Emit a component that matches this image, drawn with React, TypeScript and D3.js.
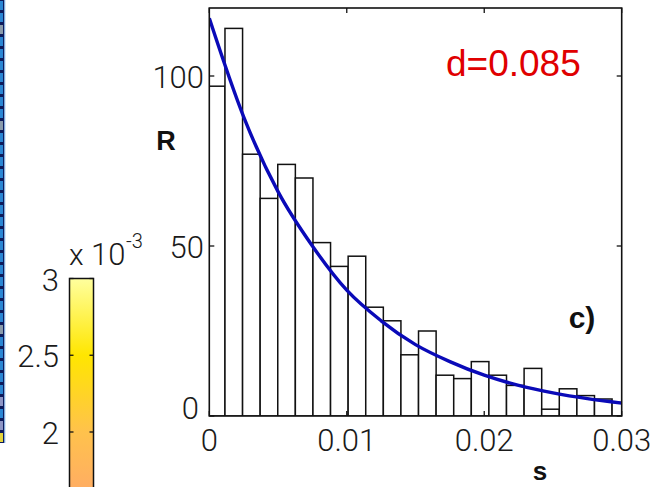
import React from "react";
import * as d3 from "d3";

// ---- data ----
const binStart = -0.00014;
const binWidth = 0.00128;
const counts = [97, 114, 77, 64, 74, 70, 51, 44, 47, 32, 28, 18, 25, 12, 11, 16, 12, 9, 14, 2, 8, 6, 5, 4];

const fitS = [0, 0.0025, 0.005, 0.0075, 0.01, 0.0125, 0.015, 0.0175, 0.02, 0.0225, 0.025, 0.0275, 0.03];
const fitR = [117, 88, 66, 50, 37, 28, 21, 16, 12, 9, 6.8, 5.1, 3.8];

const xTicks = [0, 0.01, 0.02, 0.03];
const xTickLabels = ["0", "0.01", "0.02", "0.03"];
const yTicks = [0, 50, 100];
const yTickLabels = ["0", "50", "100"];

const cbTicks = [3, 2.5, 2];
const cbTickLabels = ["3", "2.5", "2"];
const cbStopValues = [3, 2.5, 2, 1.64];
const cbStopColors = ["#ffff9e", "#ffe600", "#ffc24c", "#ffae62"];

// partial image strip at the far left (cell categories, top to bottom)
const stripCells = [
  "b", "b", "b", "g", "b", "b", "b", "b", "b", "b", "b", "g", "b", "b", "b", "b", "b", "b", "b",
  "b", "b", "b", "b", "b", "b", "b", "b", "b", "g", "b", "b", "b", "b", "b", "l", "b", "l", "y",
];
const stripColors: Record<string, string> = { b: "#2a86d4", g: "#8a9bab", l: "#8e96c6", y: "#e4d43c" };

const W = 654;
const H = 487;
const plot = { left: 209.3, right: 621.7, top: 8, bottom: 416 };

const tickFont = "Roboto, 'Liberation Sans', Arial, sans-serif";
const boldFont = "'Liberation Sans', Arial, sans-serif";

export default function App() {
  const x = d3.scaleLinear().domain([0, 0.03]).range([plot.left, plot.right]);
  const y = d3.scaleLinear().domain([0, 120]).range([plot.bottom, plot.top]);

  const bins = counts.map((c, i) => ({ x0: binStart + i * binWidth, x1: binStart + (i + 1) * binWidth, c }));

  const line = d3
    .line<number>()
    .x((_, i) => x(fitS[i]))
    .y((d) => y(d))
    .curve(d3.curveMonotoneX);

  // colorbar
  const cbY = d3.scaleLinear().domain([3, 2]).range([278.5, 432]);
  const cbColor = d3.scaleLinear<string>().domain(cbStopValues).range(cbStopColors);
  const cbLeft = 69.5;
  const cbRight = 93.5;
  const cbLow = cbStopValues[cbStopValues.length - 1];

  const stripPitch = 12;
  const stripBottom = 443;
  const n = stripCells.length;

  return (
    <svg
      width={W}
      height={H}
      style={{ position: "fixed", left: 0, top: 0, background: "#fff" }}
      fontFamily={tickFont}
    >
      <defs>
        <clipPath id="plotClip">
          <rect x={plot.left} y={plot.top} width={plot.right - plot.left} height={plot.bottom - plot.top} />
        </clipPath>
        <linearGradient id="cbGrad" x1="0" x2="0" y1={cbY(3)} y2={cbY(cbLow)} gradientUnits="userSpaceOnUse">
          {cbStopValues.map((v, i) => (
            <stop key={i} offset={(cbY(v) - cbY(3)) / (cbY(cbLow) - cbY(3))} stopColor={cbColor(v)} />
          ))}
        </linearGradient>
      </defs>

      {/* left partial image strip */}
      <rect x={0} y={0} width={4.5} height={stripBottom} fill="#0d1a5c" />
      {stripCells.map((c, i) => {
        const top = stripBottom - 10 - stripPitch * (n - 1 - i);
        return <rect key={i} x={0} y={top} width={3} height={9} fill={stripColors[c]} />;
      })}
      <line x1={4.8} x2={4.8} y1={0} y2={stripBottom} stroke="#7fb6e8" strokeWidth={1} />

      {/* colorbar */}
      <rect x={cbLeft} y={cbY(3)} width={cbRight - cbLeft} height={H - cbY(3) + 2} fill="url(#cbGrad)" stroke="#111" strokeWidth={1.5} />
      {cbTicks.map((t, i) => (
        <g key={i}>
          <line x1={cbLeft} x2={cbLeft + 4} y1={cbY(t)} y2={cbY(t)} stroke="#111" strokeWidth={1.3} />
          <line x1={cbRight - 4} x2={cbRight} y1={cbY(t)} y2={cbY(t)} stroke="#111" strokeWidth={1.3} />
          <text x={59} y={cbY(t) + 1} dy="0.36em" textAnchor="end" fontSize={31} fontWeight={300} fill="#1a1a1a">
            {cbTickLabels[i]}
          </text>
        </g>
      ))}
      <text x={69} y={265} fontSize={30} fontWeight={300} fill="#1a1a1a">
        x
      </text>
      <text x={91} y={265} fontSize={31} fontWeight={300} fill="#1a1a1a">
        10
      </text>
      <text x={126} y={248} fontSize={20} fontWeight={300} fill="#1a1a1a">
        -3
      </text>

      {/* histogram */}
      <g clipPath="url(#plotClip)">
        {bins.map((b, i) => (
          <rect
            key={i}
            x={x(b.x0)}
            y={y(b.c)}
            width={x(b.x1) - x(b.x0)}
            height={plot.bottom - y(b.c)}
            fill="#fff"
            stroke="#111"
            strokeWidth={1.5}
          />
        ))}
        <path d={line(fitR) || ""} fill="none" stroke="#0a0ab8" strokeWidth={3.4} />
      </g>

      {/* axes box */}
      <rect
        x={plot.left}
        y={plot.top}
        width={plot.right - plot.left}
        height={plot.bottom - plot.top}
        fill="none"
        stroke="#111"
        strokeWidth={1.6}
      />
      {xTicks.map((t, i) => (
        <g key={"x" + i}>
          <line x1={x(t)} x2={x(t)} y1={plot.bottom} y2={plot.bottom - 5} stroke="#111" strokeWidth={1.3} />
          <line x1={x(t)} x2={x(t)} y1={plot.top} y2={plot.top + 5} stroke="#111" strokeWidth={1.3} />
          <text x={x(t)} y={451} textAnchor="middle" fontSize={31} fontWeight={300} fill="#1a1a1a">
            {xTickLabels[i]}
          </text>
        </g>
      ))}
      {yTicks.map((t, i) => (
        <g key={"y" + i}>
          <line x1={plot.left} x2={plot.left + 5} y1={y(t)} y2={y(t)} stroke="#111" strokeWidth={1.3} />
          <line x1={plot.right - 5} x2={plot.right} y1={y(t)} y2={y(t)} stroke="#111" strokeWidth={1.3} />
          <text
            x={t === 0 ? 199 : 204}
            y={y(t) + (t === 0 ? -8 : 1)}
            dy="0.36em"
            textAnchor="end"
            fontSize={31}
            fontWeight={300}
            fill="#1a1a1a"
          >
            {yTickLabels[i]}
          </text>
        </g>
      ))}

      {/* labels */}
      <text x={166} y={150} textAnchor="middle" fontSize={27} fontWeight="bold" fontFamily={boldFont} fill="#111">
        R
      </text>
      <text x={540} y={480} textAnchor="middle" fontSize={26} fontWeight="bold" fontFamily={boldFont} fill="#111">
        s
      </text>
      <text x={582} y={328} textAnchor="middle" fontSize={30} fontWeight="bold" fontFamily={boldFont} fill="#111">
        c)
      </text>
      <text x={446} y={76} fontSize={37} fontFamily={boldFont} fill="#e00000">
        d=0.085
      </text>
    </svg>
  );
}
